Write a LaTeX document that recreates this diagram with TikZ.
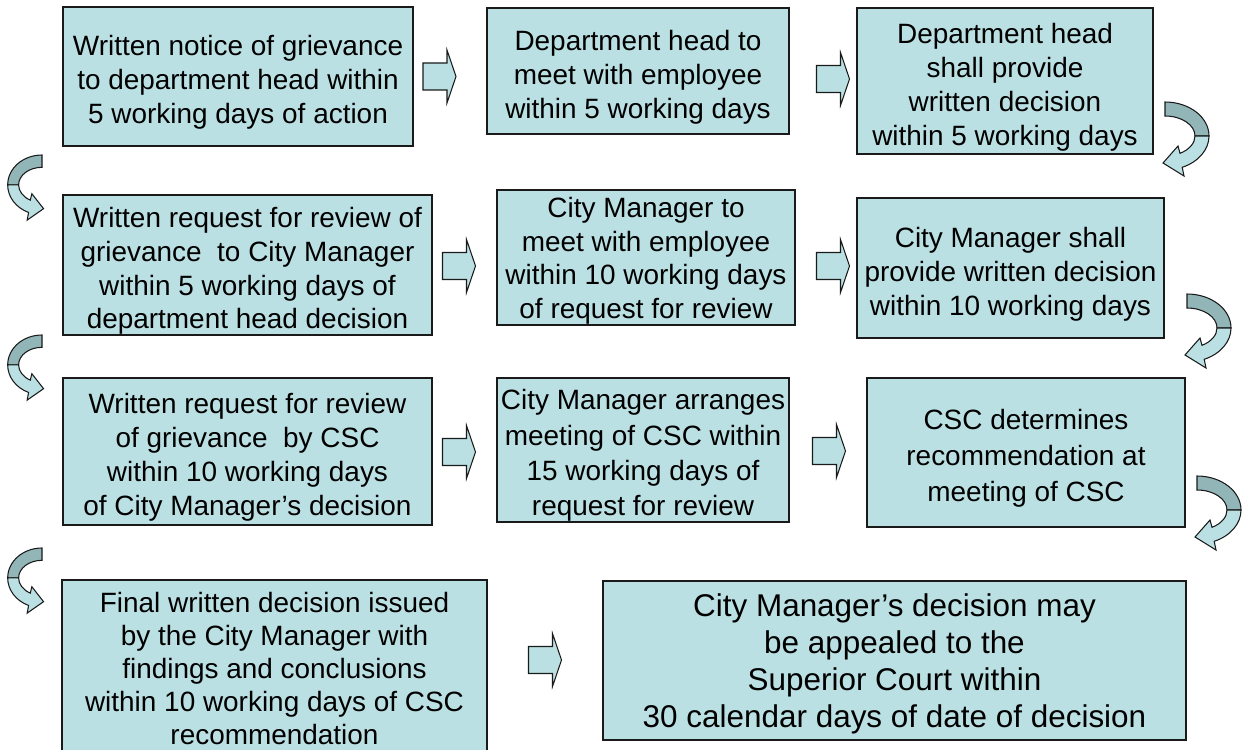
\documentclass[tikz,border=0pt]{standalone}
\usepackage{fontspec}
\setmainfont{Liberation Sans}
\usepackage{xcolor}
\usepackage{tikz}
\usetikzlibrary{calc}
\definecolor{boxfill}{HTML}{BBE0E3}
\definecolor{bandback}{HTML}{92B5B8}
\definecolor{edge}{HTML}{1A1A1A}
% invisible strut that pushes a box's lines down a little
\newcommand\topgap[1][18.4pt]{\rule{0pt}{#1}\ignorespaces}
\tikzset{
  stage/.style={draw=edge, fill=boxfill, line width=0.7pt, align=center, inner xsep=2pt, inner ysep=0pt,
    font=\fontsize{15.9}{19.3}\selectfont},
  widestage/.style={stage, font=\fontsize{15.9}{20.6}\selectfont},
  bigstage/.style={stage, font=\fontsize{17.9}{21}\selectfont},
  fwd/.pic={
    \filldraw[fill=boxfill, draw=edge, line width=0.6pt]
      (-16.5,-13.5) -- (7.5,-13.5) -- (7.5,-26.5) -- (16.5,0) -- (7.5,26.5) -- (7.5,13.5) -- (-16.5,13.5) -- cycle;
  },
  turn/.pic={
    \filldraw[fill=bandback, draw=edge, line width=0.6pt]
      (0,0) arc[start angle=90, end angle=0, x radius=0.88cm, y radius=0.68cm]
      -- ++(-0.28cm,0) arc[start angle=0, end angle=90, x radius=0.6cm, y radius=0.4cm] -- cycle;
    \filldraw[fill=boxfill, draw=edge, line width=0.6pt]
      (44,34) arc[start angle=0, end angle=-67, x radius=0.88cm, y radius=0.68cm]
      -- (19,74) -- (-2,61) -- (13,44) -- (15,51.3)
      arc[start angle=-60, end angle=0, x radius=0.6cm, y radius=0.4cm] -- cycle;
  },
}

\begin{document}
\begin{tikzpicture}[x=0.02cm, y=-0.02cm]
  \useasboundingbox (0,0) rectangle (1244,750);
  \clip (0,0) rectangle (1244,750);

  % first row
  \node[stage, minimum width=7cm, minimum height=2.78cm] (notice) at (238,76.5)
    {\topgap Written notice of grievance\\to department head within\\5 working days of action};
  \node[stage, minimum width=6.04cm, minimum height=2.52cm] (meet) at (638,71)
    {\topgap Department head to\\meet with employee\\within 5 working days};
  \node[stage, minimum width=5.92cm, minimum height=2.92cm] (decide) at (1005,81)
    {\topgap Department head\\shall provide\\written decision\\within 5 working days};
  \pic at (439.5,76.5) {fwd};
  \pic at (833,79) {fwd};
  \pic at (1165,102) {turn};
  \pic[xscale=-0.78, yscale=0.88] at (42,155) {turn};

  % second row
  \node[stage, minimum width=7.38cm, minimum height=2.8cm] (review) at (247.5,265)
    {\topgap[18.2pt]Written request for review of\\grievance\ \ to City Manager\\within 5 working days of\\department head decision};
  \node[stage, minimum width=5.96cm, minimum height=2.7cm] (cmmeet) at (646,257.5)
    {\topgap[15.3pt]City Manager to\\meet with employee\\within 10 working days\\of request for review};
  \node[stage, minimum width=6.14cm, minimum height=2.8cm] (cmdecide) at (1010.5,268)
    {\topgap City Manager shall\\provide written decision\\within 10 working days};
  \pic at (459,266) {fwd};
  \pic at (833,266) {fwd};
  \pic at (1187,294) {turn};
  \pic[xscale=-0.78, yscale=0.88] at (42,335) {turn};

  % third row
  \node[stage, minimum width=7.38cm, minimum height=2.94cm] (cscreq) at (247.5,451.5)
    {\topgap Written request for review\\of grievance\ \ by CSC\\within 10 working days\\of City Manager’s decision};
  \node[stage, font=\fontsize{15.9}{20.1}\selectfont, minimum width=5.84cm, minimum height=2.88cm] (cscmeet) at (643,450)
    {\topgap[18pt]City Manager arranges\\meeting of CSC within\\15 working days of\\request for review};
  \node[widestage, minimum width=6.36cm, minimum height=2.98cm] (cscrec) at (1026,452.5)
    {\topgap CSC determines\\recommendation at\\meeting of CSC};
  \pic at (459,452) {fwd};
  \pic at (829,451) {fwd};
  \pic at (1197,476) {turn};
  \pic[xscale=-0.78, yscale=0.88] at (42,548) {turn};

  % last row
  \node[stage, font=\fontsize{15.9}{18.8}\selectfont, minimum width=8.5cm, minimum height=3.54cm] (final) at (274.5,668.5)
    {Final written decision issued\\by the City Manager with\\findings and conclusions\\within 10 working days of CSC\\recommendation};
  \node[bigstage, minimum width=11.66cm, minimum height=3.18cm] (appeal) at (894.5,660.5)
    {\topgap[16.5pt]City Manager’s decision may\\be appealed to the\\Superior Court within\\30 calendar days of date of decision};
  \pic at (545,660) {fwd};
\end{tikzpicture}
\end{document}
